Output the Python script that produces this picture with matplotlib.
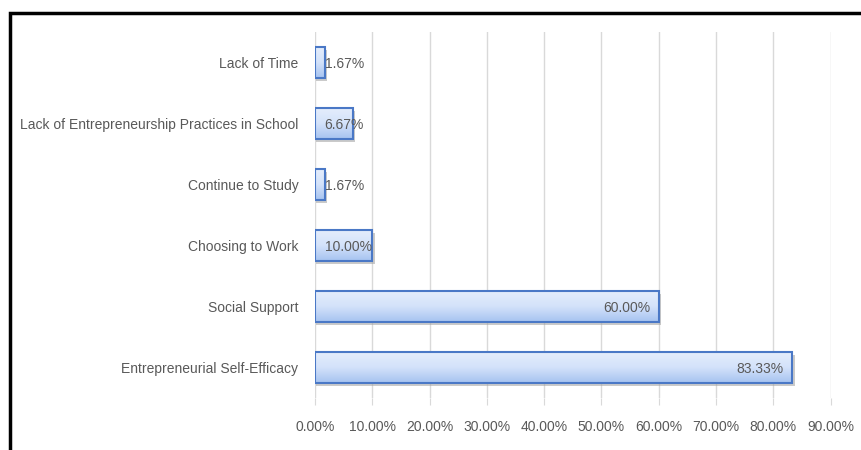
import matplotlib
matplotlib.use("Agg")
import matplotlib.pyplot as plt
import numpy as np
from matplotlib.patches import Rectangle
from matplotlib.colors import LinearSegmentedColormap

categories = ["Entrepreneurial Self-Efficacy", "Social Support", "Choosing to Work",
              "Continue to Study", "Lack of Entrepreneurship Practices in School", "Lack of Time"]
values = [83.33, 60.00, 10.00, 1.67, 6.67, 1.67]
xticks = [0, 10, 20, 30, 40, 50, 60, 70, 80, 90]
xticklabels = ["0.00%", "10.00%", "20.00%", "30.00%", "40.00%", "50.00%",
               "60.00%", "70.00%", "80.00%", "90.00%"]

plt.rcParams['font.family'] = ['Liberation Sans', 'DejaVu Sans']

W, H = 861, 450
fig = plt.figure(figsize=(W / 100, H / 100), dpi=100)
ax = fig.add_axes([315 / W, 1 - 398 / H, (830.5 - 315) / W, (398 - 32) / H])

grey = "#595959"
fs = 10.0
y = np.arange(len(categories))
bh = 0.5

ax.set_xlim(0, 90)
ax.set_ylim(-0.5, len(categories) - 0.5)

grad = np.linspace(0, 1, 64).reshape(-1, 1)
cmap = LinearSegmentedColormap.from_list("g", ["#e4edfc", "#d3e2fa", "#a6c3f0"])

for yi, v in zip(y, values):
    sh = Rectangle((0.25, yi - bh / 2 - 0.05), v + 0.15, bh, facecolor="#a0a0a0",
                   edgecolor="none", alpha=0.55, zorder=2)
    ax.add_patch(sh)
    ax.imshow(grad, extent=(0, v, yi - bh / 2, yi + bh / 2), aspect='auto',
              cmap=cmap, origin='upper', zorder=3, interpolation='bilinear')
    ax.add_patch(Rectangle((0, yi - bh / 2), v, bh, facecolor="none", edgecolor="#4a78c6",
                           linewidth=1.5, zorder=4))
    if v < 15:
        ax.text(1.7, yi - 0.02, f"{v:.2f}%", ha='left', va='center', color=grey,
                fontsize=fs, zorder=5)
    else:
        ax.text(v - 1.5, yi - 0.02, f"{v:.2f}%", ha='right', va='center', color=grey,
                fontsize=fs, zorder=5)

ax.set_xlim(0, 90)
ax.set_ylim(-0.5, len(categories) - 0.5)
ax.set_xticks(xticks)
ax.set_xticklabels(xticklabels, color=grey, fontsize=fs)
ax.set_yticks(y)
ax.set_yticklabels(categories, color=grey, fontsize=fs)
ax.grid(axis='x', color="#d9d9d9", linewidth=1, zorder=0)
ax.set_axisbelow(True)
for s in ax.spines.values():
    s.set_visible(False)
ax.tick_params(axis='y', length=0, pad=12)
ax.tick_params(axis='x', length=5, color="#d9d9d9", pad=11)

fig.patches.append(Rectangle((9.5 / W, -0.1), 1.2, 1 - 13 / H + 0.1, transform=fig.transFigure,
                             facecolor="none", edgecolor="black", linewidth=2.5))

fig.savefig("out.png", dpi=100)
